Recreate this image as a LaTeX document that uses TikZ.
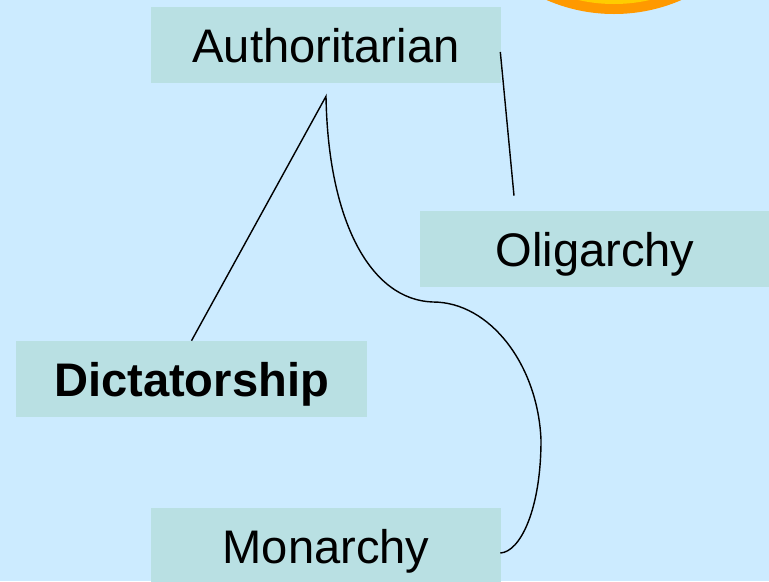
\documentclass[tikz,border=0pt]{standalone}
\usepackage{fontspec}
\setmainfont{Liberation Sans}
\usepackage{xcolor}
\definecolor{skyback}{HTML}{CCEBFF}
\definecolor{boxfill}{HTML}{B9E0E3}
\definecolor{sunring}{HTML}{FF9900}
\definecolor{suncore}{HTML}{FFCC00}
\tikzset{
    gov-box/.style = {fill=boxfill, rectangle, inner sep=0pt, minimum width=8.75cm, minimum height=1.9cm,
                      text height=25pt, text depth=0pt, font=\fontsize{33.5}{40}\selectfont},
    gov-link/.style = {draw=black, line width=1pt},
}

\begin{document}
\begin{tikzpicture}[x=0.025cm, y=-0.025cm]
\useasboundingbox (0,0) rectangle (769,581);
\clip (0,0) rectangle (769,581);
\fill[skyback] (0,0) rectangle (769,581);
\fill[sunring] (614,-155) circle (169);
\fill[suncore] (614,-155) circle (159);

\node[gov-box] (auth) at (326,45) {Authoritarian};
\node[gov-box] (olig) at (595,249) {Oligarchy};
\node[gov-box, font=\fontsize{33.5}{40}\selectfont\bfseries] (dict) at (191.5,379) {Dictatorship};
\node[gov-box] (mon) at (326,546) {Monarchy};

\coordinate (apex) at ([shift={(0,13)}]auth.south);
\coordinate (dip) at (433,302);
\coordinate (bulge) at (541,440);

\draw[gov-link] ([shift={(-1,7)}]auth.east) -- ([shift={(-81,-15)}]olig.north);
\draw[gov-link] (dict.north) -- (apex)
    .. controls (328,220) and (370,300) .. (dip)
    .. controls (490,302) and (538,365) .. (bulge)
    .. controls (541,510) and (520,552) .. ([shift={(-1,7)}]mon.east);
\end{tikzpicture}
\end{document}
